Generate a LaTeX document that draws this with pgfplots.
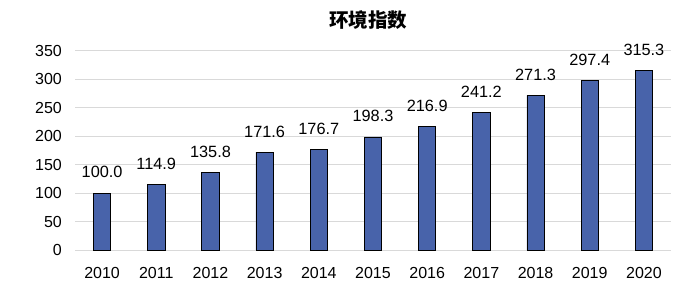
\documentclass[border=0pt]{standalone}
\usepackage{fontspec}
\setmainfont{Liberation Sans}
\newfontfamily\cjk{Noto Sans CJK SC}
\usepackage{pgfplots}
\pgfplotsset{compat=1.18}
\definecolor{barblue}{RGB}{72,99,170}
\definecolor{gridgray}{RGB}{217,217,217}
\begin{document}
\begin{tikzpicture}
\path[use as bounding box] (0,0) rectangle (690bp,297bp);
\node[font={\cjk\bfseries\fontsize{19.5bp}{23bp}\selectfont}] at (368bp,277bp) {环境指数};
\begin{axis}[
  at={(75bp,47bp)}, anchor=south west,
  scale only axis, width=596bp, height=199.5bp,
  xmin=-0.5, xmax=10.5, ymin=0, ymax=350,
  ytick={0,50,...,350},
  xtick={0,...,10},
  xticklabels={2010,2011,2012,2013,2014,2015,2016,2017,2018,2019,2020},
  axis line style={draw=none},
  tick style={draw=none},
  ymajorgrids, major grid style={color=gridgray, line width=0.8pt},
  /pgf/number format/assume math mode=true,
  ticklabel style={font=\fontsize{16bp}{19bp}\selectfont, inner sep=0pt},
  xticklabel style={anchor=north, yshift=-13bp},
  yticklabel style={anchor=east, xshift=-13bp},
  ybar, bar width=17.3bp,
  nodes near coords={\pgfmathprintnumber[fixed,fixed zerofill,precision=1]{\pgfplotspointmeta}},
  nodes near coords style={font=\fontsize{16.3bp}{19bp}\selectfont, anchor=south, inner sep=0pt, yshift=14.5bp, /pgf/number format/assume math mode=true},
  clip=false,
]
\addplot[fill=barblue, draw=black, line width=0.7pt] coordinates {
(0,100.0) (1,114.9) (2,135.8) (3,171.6) (4,176.7) (5,198.3) (6,216.9) (7,241.2) (8,271.3) (9,297.4) (10,315.3)};
\end{axis}
\end{tikzpicture}
\end{document}
